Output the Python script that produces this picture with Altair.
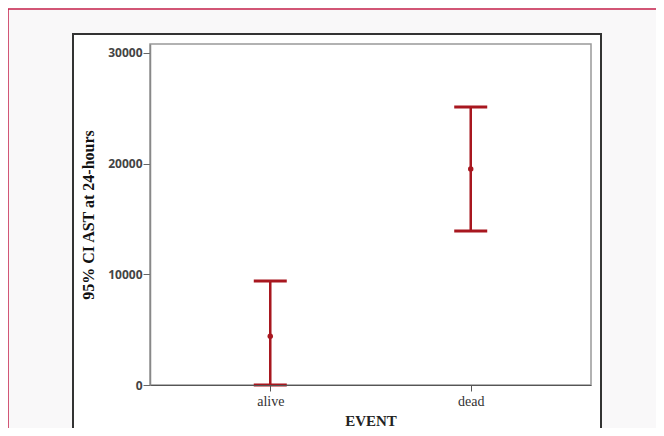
import altair as alt
import pandas as pd

groups = ["alive", "dead"]
means = [4400, 19500]
lowers = [0, 13900]
uppers = [9400, 25100]

df = pd.DataFrame({"EVENT": groups, "mean": means, "lo": lowers, "hi": uppers})

RED = "#a8171f"
W, H = 441, 341

x = alt.X("EVENT:N", scale=alt.Scale(type="point", padding=0.6),
          axis=alt.Axis(title="EVENT", labelAngle=0, labelFont="Liberation Serif",
                        labelFontSize=14, labelColor="#333", labelPadding=3,
                        titleFont="Liberation Serif", titleFontSize=15, titleFontWeight="bold",
                        titleColor="#222", titlePadding=5, tickSize=6, tickColor="#555",
                        domainColor="#555", domainWidth=1.2, zindex=1))
yscale = alt.Scale(domain=[0, 30800], nice=False)
yaxis = alt.Axis(title="95% CI AST at 24-hours", values=[0, 10000, 20000, 30000],
                 labelFont="Open Sans", labelFontWeight="bold", labelFontSize=12,
                 labelColor="#444", tickSize=7, tickColor="#666", domainColor="#888",
                 domainWidth=1.5, grid=False, labelPadding=1, zindex=1,
                 titleFont="Liberation Serif", titleFontSize=16, titleFontWeight="bold",
                 titleColor="#111", titlePadding=11, format="d")

base = alt.Chart(df)

# decorative frames
frames = pd.DataFrame({"k": [0]})
outer = alt.Chart(frames).mark_rect(fill="#ffffff", stroke="#333", strokeWidth=2).encode(
    x=alt.value(-77), x2=alt.value(451), y=alt.value(-10), y2=alt.value(420))
redtop = alt.Chart(frames).mark_rule(color="#c4204a", strokeWidth=1.5).encode(
    x=alt.value(-142), x2=alt.value(520), y=alt.value(-35))
redleft = alt.Chart(frames).mark_rule(color="#c4204a", strokeWidth=1.5).encode(
    x=alt.value(-142), y=alt.value(-35), y2=alt.value(420))
inner = alt.Chart(frames).mark_rect(fill="#ffffff", stroke="#999", strokeWidth=1.5).encode(
    x=alt.value(0), x2=alt.value(W), y=alt.value(0), y2=alt.value(H))

stem = base.mark_rule(color=RED, strokeWidth=2.5).encode(
    x=x, y=alt.Y("lo:Q", scale=yscale, axis=yaxis), y2="hi:Q")
caps_lo = base.mark_tick(color=RED, size=33, thickness=3, opacity=1).encode(
    x=x, y=alt.Y("lo:Q", scale=yscale))
caps_hi = base.mark_tick(color=RED, size=33, thickness=3, opacity=1).encode(
    x=x, y=alt.Y("hi:Q", scale=yscale))
dot = base.mark_circle(color=RED, size=30, opacity=1).encode(x=x, y=alt.Y("mean:Q", scale=yscale))

chart = alt.layer(outer, redtop, redleft, inner, stem, caps_lo, caps_hi, dot).properties(
    width=W, height=H, background="#f9f8f9",
    padding={"left": 142, "top": 36, "right": 65, "bottom": 43},
    autosize=alt.AutoSizeParams(type="none"),
).configure_view(stroke=None)

chart.save("out.html", embed_options={"renderer": "svg", "actions": False})
